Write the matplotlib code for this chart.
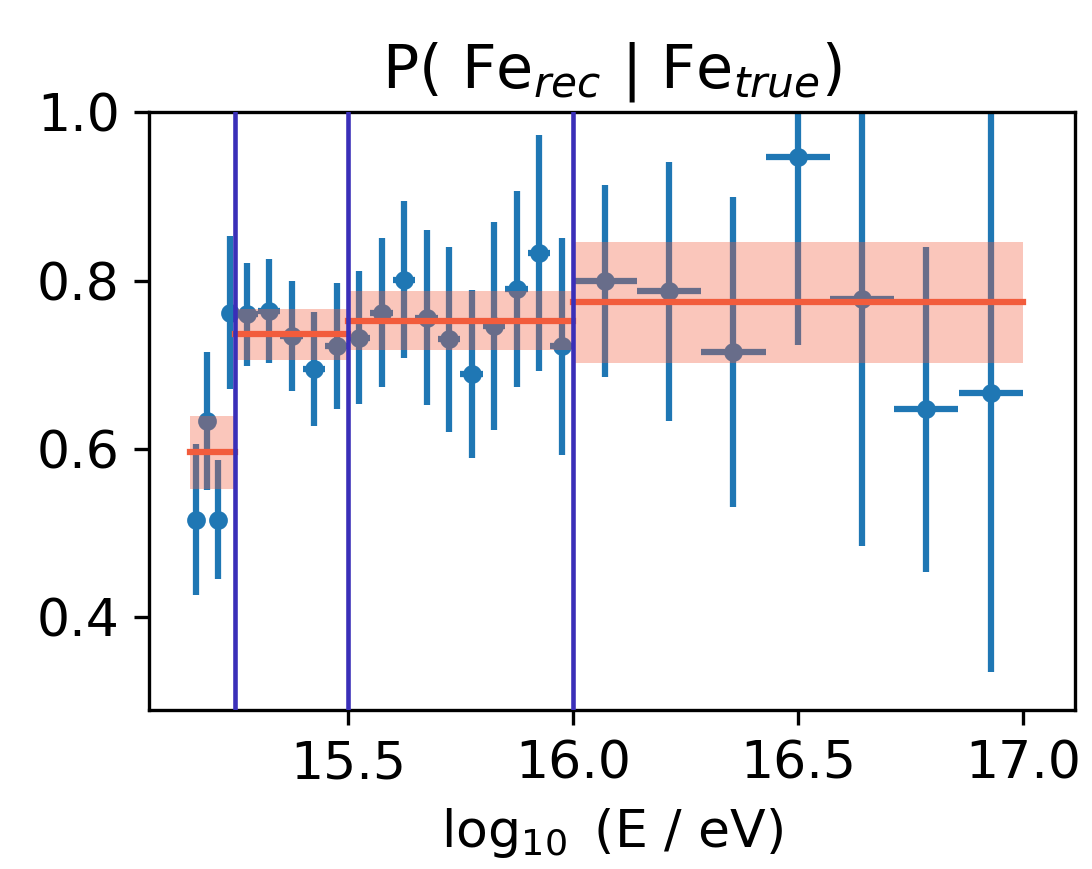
import numpy as np
import matplotlib
matplotlib.use("Agg")
import matplotlib.pyplot as plt

plt.rcParams["font.family"] = ["DejaVu Sans"]
plt.rcParams["font.size"] = 12.5

# Bin centres and half-widths in log10(E/eV)
x_low = [15.1625, 15.1875, 15.2125, 15.2375]
xerr_low = [0.0125, 0.0125, 0.0125, 0.0125]
p_low = [0.516, 0.633, 0.516, 0.762]
perr_low = [0.090, 0.082, 0.071, 0.091]

x_mid = [15.275, 15.325, 15.375, 15.425, 15.475, 15.525, 15.575, 15.625,
         15.675, 15.725, 15.775, 15.825, 15.875, 15.925, 15.975]
xerr_mid = [0.025] * 15
p_mid = [0.760, 0.764, 0.734, 0.695, 0.722, 0.732, 0.762, 0.801,
         0.756, 0.730, 0.689, 0.746, 0.790, 0.833, 0.722]
perr_mid = [0.061, 0.062, 0.065, 0.068, 0.075, 0.079, 0.088, 0.093,
            0.104, 0.110, 0.100, 0.123, 0.116, 0.140, 0.129]

x_high = [16.0714, 16.2143, 16.3571, 16.5, 16.6429, 16.7857, 16.9286]
xerr_high = [0.0714] * 7
p_high = [0.799, 0.787, 0.715, 0.947, 0.778, 0.647, 0.667]
perr_high = [0.114, 0.154, 0.184, 0.223, 0.293, 0.193, 0.332]

# Energy ranges with their mean probability and uncertainty
range_lo = [15.15, 15.25, 15.5, 16.0]
range_hi = [15.25, 15.5, 16.0, 17.0]
range_mean = [0.596, 0.736, 0.752, 0.774]
range_err = [0.043, 0.030, 0.035, 0.072]

boundaries = [15.25, 15.5, 16.0]

fig = plt.figure(figsize=(1092 / 300, 869 / 300), dpi=300)
ax = fig.add_axes([0.1364, 0.183, 0.848, 0.688])

x_all = x_low + x_mid + x_high
xerr_all = xerr_low + xerr_mid + xerr_high
p_all = p_low + p_mid + p_high
perr_all = perr_low + perr_mid + perr_high

ax.errorbar(x_all, p_all, xerr=xerr_all, yerr=perr_all, fmt=".",
            markersize=7, color="#1f77b4", zorder=2)

line_col = "#f25c3c"
for lo, hi, m, e in zip(range_lo, range_hi, range_mean, range_err):
    ax.fill_between([lo, hi], [m - e, m - e], [m + e, m + e],
                    color=line_col, alpha=0.35, lw=0, zorder=3)
    ax.plot([lo, hi], [m, m], color=line_col, lw=1.5, zorder=4)

for b in boundaries:
    ax.axvline(b, color="#3a2fb8", lw=1.1, zorder=5)

ax.set_xlim(15.058, 17.116)
ax.set_ylim(0.29, 1.0)
ax.set_xticks([15.5, 16.0, 16.5, 17.0])
ax.set_yticks([0.4, 0.6, 0.8, 1.0])
ax.set_xlabel(r"$\log_{10}$ (E / eV)")
ax.set_title(r"P( Fe$_{rec}$ | Fe$_{true}$)", fontsize=14.5)

fig.savefig("out.png", dpi=300)
